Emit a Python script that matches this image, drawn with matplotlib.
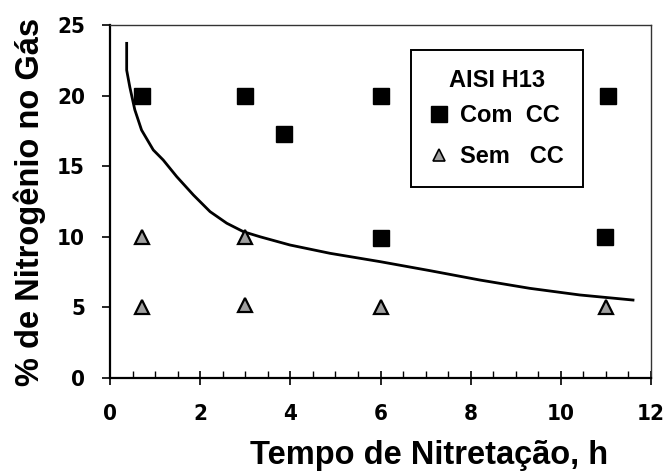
import matplotlib
matplotlib.use("Agg")
import matplotlib.pyplot as plt
from matplotlib.lines import Line2D
from matplotlib.ticker import MultipleLocator

# pontos medidos - com camada composta
com_t = [0.7, 3.0, 3.86, 6.0, 11.05, 6.0, 10.98]
com_n = [20.0, 20.0, 17.3, 20.0, 20.0, 9.9, 10.0]

# pontos medidos - sem camada composta
sem_t = [0.7, 0.7, 3.0, 3.0, 6.0, 11.0]
sem_n = [10.0, 5.0, 10.0, 5.2, 5.0, 5.0]

# curva limite
curve_t = [0.37, 0.37, 0.44, 0.55, 0.70, 0.96, 1.18, 1.48, 1.85, 2.22,
           2.59, 2.96, 3.33, 3.99, 4.88, 5.99, 7.1, 8.2, 9.31, 10.42, 11.6]
curve_n = [23.7, 21.8, 20.6, 19.0, 17.56, 16.15, 15.44, 14.26, 12.96, 11.78,
           10.96, 10.36, 10.0, 9.42, 8.83, 8.24, 7.6, 6.94, 6.35, 5.88, 5.52]

xticks = [0, 2, 4, 6, 8, 10, 12]
yticks = [0, 5, 10, 15, 20, 25]

fig = plt.figure(figsize=(6.65, 4.76), dpi=100)
ax = fig.add_axes([0.1654, 0.2059, 0.979 - 0.1654, 0.9475 - 0.2059])

ax.plot(curve_t, curve_n, color="black", lw=2.0, zorder=2)
ax.plot(com_t, com_n, ls="none", marker="s", ms=11.5, mfc="black",
        mec="black", zorder=3)
ax.plot(sem_t, sem_n, ls="none", marker="^", ms=10, mfc="#a0a0a0",
        mec="black", mew=1.6, zorder=3)

ax.set_xlim(0, 12)
ax.set_ylim(0, 25)
ax.set_xticks(xticks)
ax.set_yticks(yticks)
ax.xaxis.set_minor_locator(MultipleLocator(0.5))

tick_font = dict(family="DejaVu Sans", stretch="condensed",
                 weight="bold", size=16)
ax.set_xticklabels([str(v) for v in xticks], **tick_font)
ax.set_yticklabels([str(v) for v in yticks], **tick_font)

ax.tick_params(axis="x", which="major", direction="inout", length=10,
               width=1.2, pad=14)
ax.tick_params(axis="x", which="minor", direction="in", length=5, width=1.0)
ax.tick_params(axis="y", which="major", direction="out", length=6,
               width=1.2, pad=12)

for s in ["left", "bottom"]:
    ax.spines[s].set_linewidth(1.6)
for s in ["top", "right"]:
    ax.spines[s].set_linewidth(1.0)
    ax.spines[s].set_color("#333333")

label_font = dict(family=["Liberation Sans", "DejaVu Sans"], weight="bold")
ax.set_xlabel("Tempo de Nitretação, h", fontsize=23.5, **label_font)
ax.xaxis.set_label_coords(0.59, -0.175)
ax.xaxis.label.set_va("top")
ax.set_ylabel("% de Nitrogênio no Gás", fontsize=23.5, labelpad=8, **label_font)

handles = [
    Line2D([], [], ls="none", marker="s", ms=11, mfc="black", mec="black"),
    Line2D([], [], ls="none", marker="^", ms=8, mfc="#a0a0a0", mec="black",
           mew=1.2),
]
leg = ax.legend(handles, ["Com  CC", "Sem   CC"], title="AISI H13",
                loc="upper left", bbox_to_anchor=(0.556, 0.929),
                borderaxespad=0, fancybox=False, framealpha=1,
                edgecolor="black", handlelength=0.8, handletextpad=0.5,
                borderpad=0.8, labelspacing=0.75,
                prop=dict(family="Liberation Sans", weight="bold", size=17),
                title_fontproperties=dict(family="Liberation Sans",
                                          weight="bold", size=17))
leg.get_frame().set_linewidth(1.4)
leg._legend_box.sep = 9

fig.savefig("out.png", dpi=100)
